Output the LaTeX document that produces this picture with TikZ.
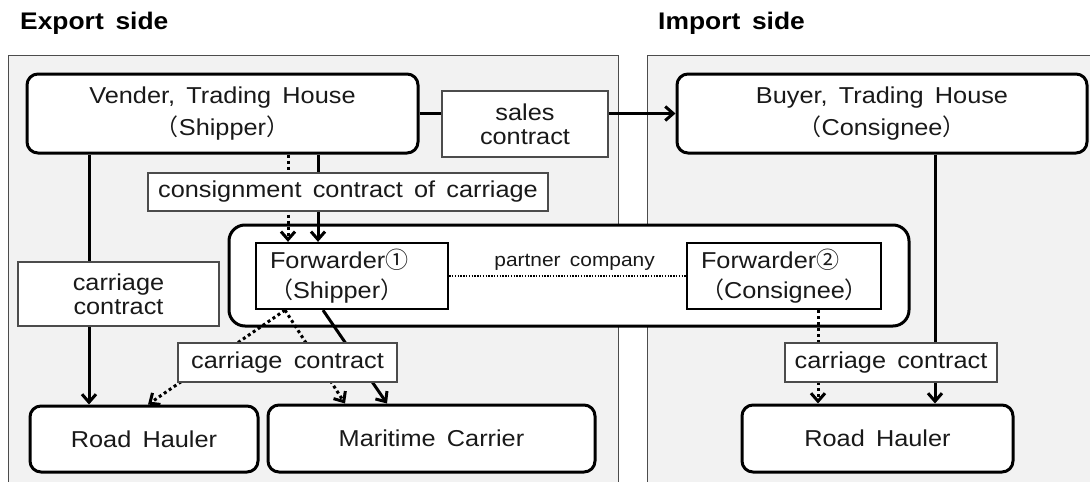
\documentclass[tikz,border=0pt]{standalone}
\usepackage{fontspec}
\setmainfont{Liberation Sans}[FakeStretch=1.1,WordSpace=1.6]
\newfontfamily\cjk{Noto Sans CJK JP}
\usetikzlibrary{arrows.meta}
\begin{document}
\begin{tikzpicture}[x=1pt,y=-1pt,
  panel/.style={draw=black!70, line width=0.9pt, fill=black!5},
  titletext/.style={font=\fontsize{24}{28}\selectfont\bfseries, text=black, inner sep=0pt},
  bigbox/.style={draw, line width=3pt, rounded corners=16pt, fill=white, inner sep=0pt},
  rbox/.style={draw, line width=3pt, rounded corners=11pt, fill=white, inner sep=0pt,
    align=center, text=black!90, font=\fontsize{23}{32}\selectfont},
  fwbox/.style={draw, line width=2.3pt, fill=white, inner ysep=0pt, inner xsep=14pt,
    align=left, text=black!90, font=\fontsize{23}{30}\selectfont},
  lbox/.style={draw=black!70, line width=1.1pt, fill=white, inner sep=0pt,
    align=center, text=black!90, font=\fontsize{23}{24}\selectfont},
  conn/.style={line width=3pt, -{Straight Barb[length=8pt,width=14pt]}},
  dconn/.style={line width=3pt, dash pattern=on 3pt off 3pt, -{Straight Barb[length=8pt,width=14pt]}},
  pline/.style={line width=1.4pt, dash pattern=on 1.4pt off 1.4pt}
]
\useasboundingbox (0,0) rectangle (1090,482);
\clip (0,0) rectangle (1090,482);

% panels
\draw[panel] (8,55) rectangle (618,500);
\draw[panel] (647,55) rectangle (1100,500);
\node[titletext, anchor=west] (exptitle) at (20,23) {Export side};
\node[titletext, anchor=west] (imptitle) at (658,23) {Import side};

% forwarders frame
\node[bigbox, minimum width=680pt, minimum height=101pt] (fwd) at (569,275.5) {};

% main boxes
\node[rbox, minimum width=391pt, minimum height=79pt] (vender) at (222.5,113.5)
  {Vender, Trading House\\{\cjk （}Shipper{\cjk ）}};
\node[rbox, minimum width=410pt, minimum height=79pt] (buyer) at (882,113.5)
  {Buyer, Trading House\\{\cjk （}Consignee{\cjk ）}};
\node[fwbox, text width=164pt, minimum height=66pt] (f1) at (352,276)
  {Forwarder{\cjk ①}\\{\cjk （}Shipper{\cjk ）}};
\node[fwbox, text width=166pt, minimum height=66pt] (f2) at (784,276)
  {Forwarder{\cjk ②}\\{\cjk （}Consignee{\cjk ）}};
\node[rbox, minimum width=228pt, minimum height=66pt] (roadL) at (144,439) {Road Hauler};
\node[rbox, minimum width=327pt, minimum height=67pt] (mar) at (431.5,438.5) {Maritime Carrier};
\node[rbox, minimum width=271pt, minimum height=67pt] (roadR) at (877.5,438.5) {Road Hauler};

% connector x positions
\coordinate (xa) at (89,0);
\coordinate (xb) at (288,0);
\coordinate (xc) at (318,0);
\coordinate (xd) at (323,0);
\coordinate (xe) at (387,0);
\coordinate (xf) at (285,0);
\coordinate (xg) at (148,0);
\coordinate (xh) at (345,0);
\coordinate (xi) at (935,0);
\coordinate (xj) at (818,0);

% connectors
\draw[conn] (vender.east) -- (buyer.west);
\draw[conn] (vender.south -| xa) -- (roadL.north -| xa);
\draw[dconn] (vender.south -| xb) -- (f1.north -| xb);
\draw[conn] (vender.south -| xc) -- (f1.north -| xc);
\draw[conn] (f1.south -| xd) -- (mar.north -| xe);
\draw[dconn] (f1.south -| xf) -- (roadL.north -| xg);
\draw[dconn] (f1.south -| xf) -- (mar.north -| xh);
\draw[conn] (buyer.south -| xi) -- (roadR.north -| xi);
\draw[dconn] (f2.south -| xj) -- (roadR.north -| xj);
\draw[pline] (f1.east) -- (f2.west)
  node (partner) [pos=0.53, yshift=14pt, text=black!90, font=\fontsize{19}{22}\selectfont] {partner company};

% contract labels
\node[lbox, minimum width=166pt, minimum height=66pt] (sales) at (525,124) {sales\\contract};
\node[lbox, minimum width=400pt, minimum height=38pt] (consign) at (348,192) {consignment contract of carriage};
\node[lbox, minimum width=201pt, minimum height=64pt] (ccL) at (118.5,294) {carriage\\contract};
\node[lbox, minimum width=219pt, minimum height=39pt] (ccM) at (287.5,362.5) {carriage contract};
\node[lbox, minimum width=212pt, minimum height=39pt] (ccR) at (891,362.5) {carriage contract};
\end{tikzpicture}
\end{document}
